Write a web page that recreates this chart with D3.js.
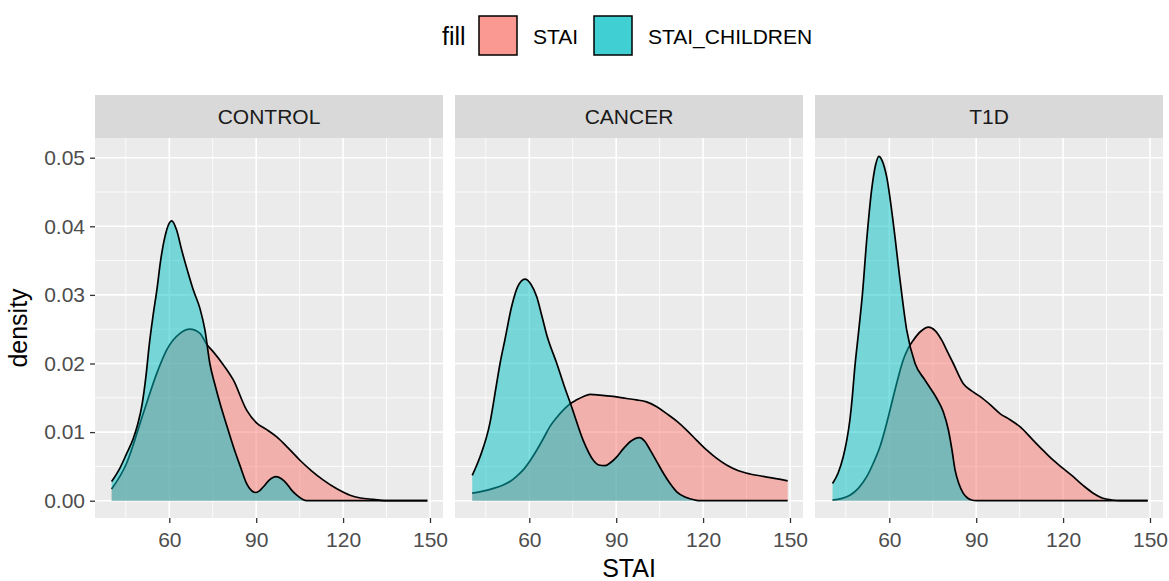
<!DOCTYPE html>
<html>
<head>
<meta charset="utf-8">
<script src="https://cdn.jsdelivr.net/npm/d3@7"></script>
<style>
  html, body { margin: 0; padding: 0; background: #ffffff; }
  svg { display: block; font-family: "Liberation Sans", Arial, sans-serif; }
</style>
</head>
<body>
<svg id="chart" width="1169" height="581"></svg>
<script>
// Facet labels, fill groups and tick values
const groups = ["CONTROL", "CANCER", "T1D"];
const fillGroups = ["STAI", "STAI_CHILDREN"];
const xTicks = [60, 90, 120, 150];
const xMinorTicks = [45, 75, 105, 135];
const yTicks = [0, 0.01, 0.02, 0.03, 0.04, 0.05];
const yMinorTicks = [0.005, 0.015, 0.025, 0.035, 0.045];

// Kernel density estimates, [score, density] pairs
const controlStai = [[40.1,0.0017],[45.3,0.0055],[51.0,0.0127],[55.7,0.0186],[59.1,0.0220],[63.7,0.0244],[67.1,0.0250],[70.6,0.0244],[72.9,0.0228],[75.2,0.0217],[78.5,0.0199],[82.1,0.0176],[86.7,0.0132],[90.2,0.0113],[93.5,0.0104],[97.1,0.0093],[101,0.0077],[105.1,0.0059],[109,0.0044],[113.2,0.0030],[118,0.0017],[122.4,0.0008],[126,0.0004],[130.4,0.0002],[136,0.0],[149.1,0]];
const controlChildren = [[40.1,0.0028],[43,0.0048],[45.3,0.0069],[47.5,0.0090],[49.0,0.0110],[50.6,0.0140],[51.9,0.0180],[53.1,0.0228],[54.4,0.0270],[55.7,0.0307],[57,0.0350],[58.5,0.0385],[60.8,0.0408],[62.5,0.0395],[64.3,0.0365],[66.3,0.0335],[68.3,0.0307],[70.6,0.0280],[72.3,0.0249],[74.0,0.0200],[75.7,0.0170],[77.5,0.0142],[79.8,0.0110],[82.1,0.0079],[84.5,0.0050],[86.7,0.0025],[88.3,0.0015],[89.6,0.0012],[91,0.0014],[92.4,0.0020],[94.5,0.0030],[96.8,0.0035],[98.7,0.0032],[100.5,0.0025],[102.3,0.0015],[104.0,0.0008],[106,0.0002],[107.4,0],[149.1,0]];
const cancerStai = [[40.3,0.0011],[44,0.0014],[47.6,0.0018],[51,0.0023],[53.3,0.0028],[55.7,0.0036],[57.9,0.0045],[60.2,0.0058],[62.6,0.0074],[64.9,0.0091],[67.1,0.0108],[69.4,0.0121],[71.7,0.0132],[74,0.0141],[76.4,0.0147],[78.7,0.0152],[81.0,0.0155],[84.4,0.0154],[89,0.0152],[93.6,0.0149],[97,0.0147],[100.5,0.0144],[104,0.0137],[107.4,0.0127],[110.9,0.0116],[114.3,0.0103],[117.8,0.0088],[121.2,0.0074],[124.6,0.0062],[128.1,0.0052],[132,0.0044],[136.2,0.0039],[140,0.0036],[144.2,0.0033],[149.2,0.0029]];
const cancerChildren = [[40.3,0.0037],[43.0,0.0064],[46.4,0.0113],[48.5,0.0165],[49.9,0.0200],[51.6,0.0235],[53.9,0.0283],[56,0.0312],[58.5,0.0323],[60.5,0.0316],[62.6,0.0297],[64.3,0.0270],[66.0,0.0242],[69.5,0.0200],[72,0.0168],[74.6,0.0137],[78.6,0.0088],[82.1,0.0059],[84,0.0052],[86.1,0.0051],[88.2,0.0056],[90.2,0.0064],[92.5,0.0076],[94.8,0.0086],[98.0,0.0092],[100,0.0086],[101.7,0.0074],[104,0.0057],[106.3,0.0040],[108.6,0.0025],[110.9,0.0013],[114,0.0005],[117.2,0.0001],[119,0],[149.2,0]];
const t1dStai = [[40.4,0.0001],[43.4,0.0003],[46.4,0.0008],[49.3,0.0018],[52.2,0.0035],[54.5,0.0055],[56.8,0.0079],[59.1,0.0113],[61.4,0.0152],[63.1,0.0180],[64.8,0.0205],[66.5,0.0222],[68.3,0.0234],[70.9,0.0247],[73.5,0.0253],[75.8,0.0248],[78.1,0.0234],[80.1,0.0217],[82.1,0.0200],[85.5,0.0171],[88.4,0.0160],[91.3,0.0152],[94.8,0.0140],[98.2,0.0127],[101.7,0.0118],[105.1,0.0108],[109.7,0.0088],[113.2,0.0073],[116.6,0.0059],[120,0.0047],[123.5,0.0035],[127,0.0022],[130.4,0.0011],[133.5,0.0004],[136.8,0.0001],[140,0],[149.2,0]];
const t1dChildren = [[40.4,0.0025],[42.3,0.0040],[44.1,0.0064],[45.4,0.0090],[46.4,0.0118],[47.2,0.0150],[48.0,0.0190],[49.5,0.0250],[50.7,0.0300],[52.2,0.0380],[53.9,0.0453],[55.3,0.0490],[56.4,0.0502],[57.6,0.0495],[59.1,0.0472],[61.4,0.0404],[63.7,0.0322],[66.0,0.0249],[68.9,0.0200],[72.3,0.0176],[76.4,0.0149],[78.6,0.0130],[80.4,0.0103],[81.6,0.0075],[82.7,0.0045],[84,0.0025],[85.5,0.0011],[87,0.0004],[88.4,0.0001],[90,0],[149.2,0]];

const densities = {
  CONTROL: { STAI: controlStai, STAI_CHILDREN: controlChildren },
  CANCER:  { STAI: cancerStai,  STAI_CHILDREN: cancerChildren },
  T1D:     { STAI: t1dStai,     STAI_CHILDREN: t1dChildren }
};

const fillColor = d3.scaleOrdinal().domain(fillGroups).range(["#F8766D", "#00BFC4"]);

// Layout
const svg = d3.select("#chart");
const plotLeft = 95, plotRight = 1163, panelGap = 12;
const panelTop = 138, panelBottom = 518, stripTop = 95;
const panelWidth = (plotRight - plotLeft - panelGap * (groups.length - 1)) / groups.length;

const x = d3.scaleLinear().domain([34.35, 154.49]).range([0, panelWidth]);
const y = d3.scaleLinear().domain([-0.00252, 0.05287]).range([panelBottom, panelTop]);

const tickFont = 21, titleFont = 25;

groups.forEach((g, i) => {
  const left = plotLeft + i * (panelWidth + panelGap);
  const panel = svg.append("g").attr("transform", `translate(${left},0)`);

  // background
  panel.append("rect").attr("x", 0).attr("y", panelTop)
    .attr("width", panelWidth).attr("height", panelBottom - panelTop)
    .attr("fill", "#EBEBEB");

  // minor grid
  panel.selectAll(".vminor").data(xMinorTicks).join("line")
    .attr("x1", d => x(d)).attr("x2", d => x(d))
    .attr("y1", panelTop).attr("y2", panelBottom)
    .attr("stroke", "#ffffff").attr("stroke-width", 0.8);
  panel.selectAll(".hminor").data(yMinorTicks).join("line")
    .attr("x1", 0).attr("x2", panelWidth)
    .attr("y1", d => y(d)).attr("y2", d => y(d))
    .attr("stroke", "#ffffff").attr("stroke-width", 0.8);
  // major grid
  panel.selectAll(".vmajor").data(xTicks).join("line")
    .attr("x1", d => x(d)).attr("x2", d => x(d))
    .attr("y1", panelTop).attr("y2", panelBottom)
    .attr("stroke", "#ffffff").attr("stroke-width", 1.6);
  panel.selectAll(".hmajor").data(yTicks).join("line")
    .attr("x1", 0).attr("x2", panelWidth)
    .attr("y1", d => y(d)).attr("y2", d => y(d))
    .attr("stroke", "#ffffff").attr("stroke-width", 1.6);

  // densities: STAI first, STAI_CHILDREN on top
  const area = d3.area().x(d => x(d[0])).y0(y(0)).y1(d => y(d[1])).curve(d3.curveMonotoneX);
  const line = d3.line().x(d => x(d[0])).y(d => y(d[1])).curve(d3.curveMonotoneX);
  fillGroups.forEach(f => {
    const pts = densities[g][f];
    panel.append("path").attr("d", area(pts))
      .attr("fill", fillColor(f)).attr("fill-opacity", 0.5);
    panel.append("path").attr("d", line(pts))
      .attr("fill", "none").attr("stroke", "#000000").attr("stroke-width", 1.7)
      .attr("stroke-linejoin", "round");
  });

  // strip
  panel.append("rect").attr("x", 0).attr("y", stripTop)
    .attr("width", panelWidth).attr("height", panelTop - stripTop)
    .attr("fill", "#D9D9D9");
  panel.append("text").attr("x", panelWidth / 2).attr("y", (stripTop + panelTop) / 2)
    .attr("text-anchor", "middle").attr("dominant-baseline", "central")
    .attr("font-size", tickFont).attr("fill", "#1A1A1A").text(g);

  // x axis
  const xAxis = panel.append("g").attr("transform", `translate(0,${panelBottom})`)
    .call(d3.axisBottom(x).tickValues(xTicks).tickSize(5).tickPadding(9).tickFormat(d3.format("d")));
  xAxis.select(".domain").remove();
  xAxis.selectAll(".tick line").attr("stroke", "#333333").attr("stroke-width", 1.3);
  xAxis.selectAll(".tick text").attr("font-size", tickFont).attr("fill", "#4D4D4D")
    .attr("font-family", "Liberation Sans, Arial, sans-serif");
});

// y axis
const yAxis = svg.append("g").attr("transform", `translate(${plotLeft},0)`)
  .call(d3.axisLeft(y).tickValues(yTicks).tickSize(5).tickPadding(5).tickFormat(d3.format(".2f")));
yAxis.select(".domain").remove();
yAxis.selectAll(".tick line").attr("stroke", "#333333").attr("stroke-width", 1.3);
yAxis.selectAll(".tick text").attr("font-size", tickFont).attr("fill", "#4D4D4D")
  .attr("font-family", "Liberation Sans, Arial, sans-serif");

// axis titles
svg.append("text").attr("x", (plotLeft + plotRight) / 2).attr("y", 577)
  .attr("text-anchor", "middle").attr("font-size", titleFont).attr("fill", "#000000").text("STAI");
svg.append("text").attr("transform", `translate(27,${(panelTop + panelBottom) / 2}) rotate(-90)`)
  .attr("text-anchor", "middle").attr("font-size", titleFont).attr("fill", "#000000").text("density");

// legend
const legend = svg.append("g");
legend.append("text").attr("x", 442).attr("y", 36).attr("dominant-baseline", "central")
  .attr("font-size", titleFont).attr("fill", "#000000").text("fill");
const keyX = [479, 594];
const labelX = [533, 648];
fillGroups.forEach((f, i) => {
  legend.append("rect").attr("x", keyX[i]).attr("y", 16).attr("width", 38).attr("height", 39)
    .attr("fill", "#ffffff");
  legend.append("rect").attr("x", keyX[i]).attr("y", 16).attr("width", 38).attr("height", 39)
    .attr("fill", fillColor(f)).attr("fill-opacity", 0.75)
    .attr("stroke", "#000000").attr("stroke-width", 1.5);
  legend.append("text").attr("x", labelX[i]).attr("y", 36).attr("dominant-baseline", "central")
    .attr("font-size", tickFont).attr("fill", "#000000").text(f);
});
</script>
</body>
</html>
